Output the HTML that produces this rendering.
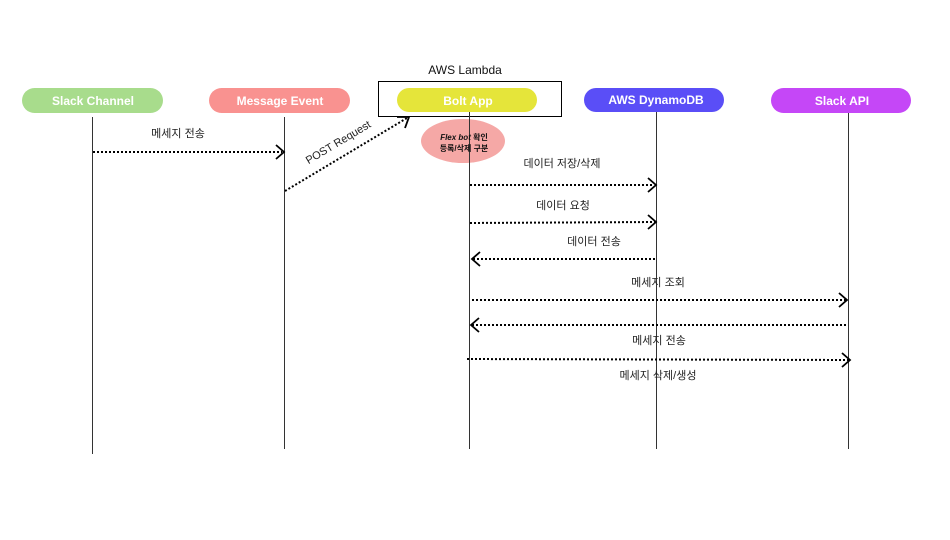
<!DOCTYPE html>
<html><head><meta charset="utf-8"><style>
html,body{margin:0;padding:0;background:#fff;}
svg{display:block;}
text{font-family:"Liberation Sans","Noto Sans CJK KR",sans-serif;}
</style></head><body>
<svg width="950" height="540" viewBox="0 0 950 540" xmlns="http://www.w3.org/2000/svg">
<rect width="950" height="540" fill="#fff"/>
<text x="465" y="74" font-size="12" text-anchor="middle" fill="#111">AWS Lambda</text>
<rect x="378.5" y="81.5" width="183" height="35" fill="none" stroke="#000" stroke-width="1"/>
<g font-size="12" font-weight="bold" fill="#fff" text-anchor="middle">
<rect x="22" y="88" width="141" height="25" rx="12.5" fill="#a8dc8c"/><text x="93" y="105">Slack Channel</text>
<rect x="209" y="88" width="141" height="25" rx="12.5" fill="#f99290"/><text x="280" y="105">Message Event</text>
<rect x="397" y="88" width="140" height="24" rx="12" fill="#e5e53a"/><text x="468" y="105">Bolt App</text>
<rect x="584" y="88" width="140" height="24" rx="12" fill="#5a4ef7"/><text x="656" y="104">AWS DynamoDB</text>
<rect x="771" y="88" width="140" height="25" rx="12.5" fill="#c547f7"/><text x="842" y="105">Slack API</text>
</g>
<ellipse cx="463" cy="141" rx="42" ry="22" fill="#f5a8a6"/>
<g stroke="#333" stroke-width="1">
<line x1="92.5" y1="117" x2="92.5" y2="454"/>
<line x1="284.5" y1="117" x2="284.5" y2="449"/>
<line x1="469.5" y1="112" x2="469.5" y2="449"/>
<line x1="656.5" y1="112" x2="656.5" y2="449"/>
<line x1="848.5" y1="113" x2="848.5" y2="449"/>
</g>
<text x="464" y="140" font-size="8" font-weight="bold" text-anchor="middle" fill="#111"><tspan font-style="italic">Flex bot</tspan> 확인</text>
<text x="464" y="151" font-size="8" font-weight="bold" text-anchor="middle" fill="#111">등록/삭제 구분</text>
<g stroke="#000" stroke-width="2" stroke-dasharray="2,2" fill="none">
<line x1="93" y1="152" x2="282" y2="152"/>
<line x1="285" y1="191" x2="407" y2="118"/>
<line x1="470" y1="185" x2="654" y2="185"/>
<line x1="470" y1="223" x2="655" y2="222"/>
<line x1="473" y1="259" x2="655" y2="259"/>
<line x1="472" y1="300" x2="846" y2="300"/>
<line x1="472" y1="325" x2="846" y2="325"/>
<line x1="467" y1="359" x2="849" y2="360"/>
</g>
<g stroke="#000" stroke-width="1.8" fill="none">
<polyline points="276,145 284,152 276,159"/>
<polyline points="397,117 409,117 405,128"/>
<polyline points="648,178 656,185 648,192"/>
<polyline points="648,215 656,222 648,229"/>
<polyline points="480,252 472,259 480,266"/>
<polyline points="839,293 847,300 839,307"/>
<polyline points="479,318 471,325 479,332"/>
<polyline points="842,353 850,360 842,367"/>
</g>
<g font-size="11" fill="#222" text-anchor="middle">
<text x="178" y="137">메세지 전송</text>
<text x="338" y="146" transform="rotate(-31 338 142)">POST Request</text>
<text x="562" y="167">데이터 저장/삭제</text>
<text x="563" y="209">데이터 요청</text>
<text x="594" y="245">데이터 전송</text>
<text x="658" y="286">메세지 조회</text>
<text x="659" y="344">메세지 전송</text>
<text x="658" y="379">메세지 삭제/생성</text>
</g>
</svg>
</body></html>
